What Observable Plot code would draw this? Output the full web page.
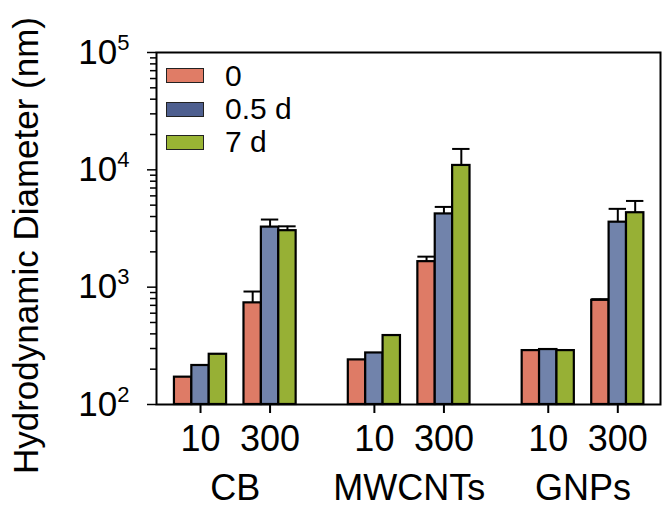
<!DOCTYPE html>
<html>
<head>
<meta charset="utf-8">
<script src="https://cdn.jsdelivr.net/npm/d3@7"></script>
<script src="https://cdn.jsdelivr.net/npm/@observablehq/plot@0.6"></script>
<style>
  body { margin: 0; background: #fff; }
  #wrap { position: relative; width: 662px; height: 516px; font-family: "Liberation Sans", Arial, sans-serif; color: #000; }
  #legend { position: absolute; left: 166px; top: 59px; }
  .item { display: flex; align-items: center; height: 33.4px; font-size: 30px; line-height: 1; }
  .sw { width: 36px; height: 13px; border: 1.6px solid #222; margin-right: 21px; box-sizing: content-box; }
</style>
</head>
<body>
<div id="wrap"></div>
<script>
// ---- data ----
const materials = ["CB", "MWCNTs", "GNPs"];
const sizes = ["10", "300"];
const series = ["0", "0.5 d", "7 d"];
// order: CB-10, CB-300, MWCNTs-10, MWCNTs-300, GNPs-10, GNPs-300
const mean0   = [171, 735, 240, 1650, 288, 773];
const mean05  = [215, 3250, 275, 4210, 294, 3580];
const mean7   = [268, 3030, 387, 10900, 288, 4310];
const upper0  = [null, 918, null, 1820, null, 790];
const upper05 = [null, 3770, null, 4830, null, 4650];
const upper7  = [null, 3300, null, 15070, null, 5430];
const yTicks = [100, 1000, 10000, 100000];
const barColors = ["#DE7B66", "#7183AB", "#97B035"];
const legendColors = ["#E07C66", "#4E5F8F", "#99B434"];

// ---- build table ----
const means = [mean0, mean05, mean7];
const uppers = [upper0, upper05, upper7];
const groupGap = 2.5;
const barW = 0.25;
const rows = [];
materials.forEach((m, mi) => sizes.forEach((s, si) => series.forEach((k, ki) => {
  const j = mi * sizes.length + si;
  rows.push({material: m, size: s, series: k, ki, pos: mi * groupGap + si, value: means[ki][j], upper: uppers[ki][j]});
})));
const errRows = rows.filter(d => d.upper != null);
const tickPos = materials.flatMap((m, mi) => sizes.map((s, si) => mi * groupGap + si));
const minor = [];
for (let e = 2; e < 5; e++) for (let k = 2; k <= 9; k++) minor.push(k * 10 ** e);

const x1 = d => d.pos + (d.ki - 1.5) * barW;
const x2 = d => d.pos + (d.ki - 0.5) * barW;
const xc = d => d.pos + (d.ki - 1) * barW;

const chart = Plot.plot({
  width: 662,
  height: 516,
  marginLeft: 156,
  marginRight: 2,
  marginTop: 52,
  marginBottom: 112,
  style: {fontFamily: '"Liberation Sans", Arial, sans-serif', color: "#000", background: "#fff"},
  x: {type: "linear", domain: [-0.633, 6.614], axis: null},
  y: {type: "log", domain: [100, 100000], axis: null},
  color: {domain: series, range: barColors},
  marks: [
    Plot.rectY(rows, {x1, x2, y1: 100, y2: "value", fill: "series", stroke: "#000", strokeWidth: 2.2}),
    Plot.ruleX(errRows, {x: xc, y1: "value", y2: "upper", stroke: "#000", strokeWidth: 2}),
    Plot.ruleY(errRows, {y: "upper", x1, x2, stroke: "#000", strokeWidth: 2}),
    Plot.axisY(minor, {tickSize: 6, fill: "none", label: null, strokeWidth: 1.5}),
    Plot.axisY(yTicks, {tickSize: 9, tickPadding: 18, fontSize: 35, label: null, strokeWidth: 1.5,
      tickFormat: d => "10^" + Math.round(Math.log10(d))}),
    Plot.axisX(tickPos, {tickSize: 9, tickPadding: 12, fontSize: 36, label: null, strokeWidth: 2,
      tickFormat: d => sizes[Math.round(d % groupGap)]}),
    Plot.text(materials, {x: (d, i) => i * groupGap + (sizes.length - 1) / 2, frameAnchor: "bottom", dy: 95, fontSize: 36}),
    Plot.text(["Hydrodynamic Diameter (nm)"], {frameAnchor: "left", textAnchor: "middle", rotate: -90, dx: -130, dy: 17, fontSize: 35}),
    Plot.frame({stroke: "#000", strokeWidth: 2})
  ]
});

// superscript exponents on the y tick labels
chart.querySelectorAll('g[aria-label="y-axis tick label"] text').forEach(t => {
  const [base, exp] = t.textContent.split("^");
  if (exp === undefined) return;
  t.textContent = base;
  const ts = document.createElementNS("http://www.w3.org/2000/svg", "tspan");
  ts.setAttribute("dy", "-14");
  ts.setAttribute("font-size", "22");
  ts.textContent = exp;
  t.appendChild(ts);
});

const wrap = document.getElementById("wrap");
wrap.appendChild(chart);

// legend
const legend = document.createElement("div");
legend.id = "legend";
series.forEach((s, i) => {
  const item = document.createElement("div");
  item.className = "item";
  const sw = document.createElement("span");
  sw.className = "sw";
  sw.style.background = legendColors[i];
  const lab = document.createElement("span");
  lab.textContent = s;
  item.appendChild(sw);
  item.appendChild(lab);
  legend.appendChild(item);
});
wrap.appendChild(legend);
</script>
</body>
</html>
